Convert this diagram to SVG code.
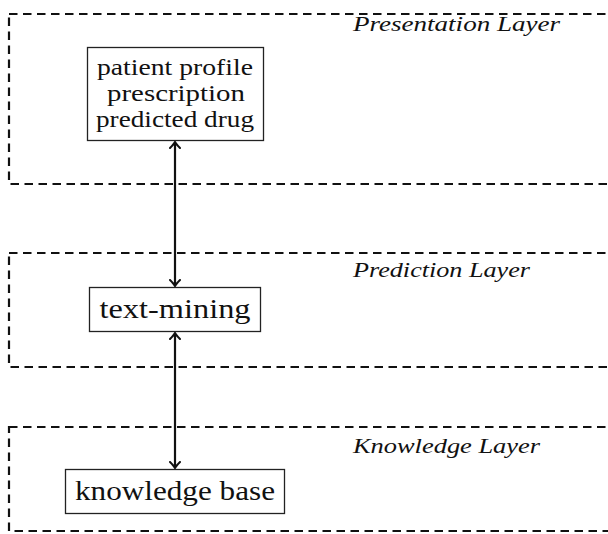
<svg xmlns="http://www.w3.org/2000/svg" width="608" height="534" viewBox="0 0 608 534">
<defs>
<marker id="arr" viewBox="-7 -6 9 12" markerWidth="9" markerHeight="12" refX="0" refY="0" orient="auto-start-reverse" markerUnits="userSpaceOnUse">
<path d="M-6,-5 Q-2,-1 0,0 Q-2,1 -6,5" fill="none" stroke="#111" stroke-width="2" stroke-linecap="round"/>
</marker>
</defs>
<style>
.layer{fill:none;stroke:#111;stroke-width:2.2;stroke-dasharray:8.5 5.5}
.box{fill:#fff;stroke:#222;stroke-width:1.3}
.t{font-family:'Liberation Serif','DejaVu Serif',serif;fill:#111;text-anchor:middle}
.lbl{font-family:'Liberation Serif','DejaVu Serif',serif;font-style:italic;fill:#111;font-size:20px}
.conn{stroke:#111;stroke-width:2.2;fill:none}
</style>
<g id="presentation-layer">
<rect class="layer" x="9" y="14" width="620" height="170"/>
<text class="lbl" x="353" y="31" textLength="207" lengthAdjust="spacingAndGlyphs">Presentation Layer</text>
</g>
<g id="prediction-layer">
<rect class="layer" x="9" y="253" width="620" height="114"/>
<text class="lbl" x="353" y="277" textLength="177" lengthAdjust="spacingAndGlyphs">Prediction Layer</text>
</g>
<g id="knowledge-layer">
<rect class="layer" x="9" y="427" width="620" height="104"/>
<text class="lbl" x="353" y="453" textLength="187" lengthAdjust="spacingAndGlyphs">Knowledge Layer</text>
</g>
<g id="connectors">
<line class="conn" x1="175" y1="142" x2="175" y2="286" marker-start="url(#arr)" marker-end="url(#arr)"/>
<line class="conn" x1="175" y1="333" x2="175" y2="468" marker-start="url(#arr)" marker-end="url(#arr)"/>
</g>
<g id="node-presentation">
<rect class="box" x="87.5" y="47.5" width="176" height="93"/>
<text class="t" x="175" y="75" font-size="23" textLength="156" lengthAdjust="spacingAndGlyphs">patient profile</text>
<text class="t" x="176" y="101" font-size="23" textLength="138" lengthAdjust="spacingAndGlyphs">prescription</text>
<text class="t" x="175" y="127" font-size="23" textLength="158" lengthAdjust="spacingAndGlyphs">predicted drug</text>
</g>
<g id="node-text-mining">
<rect class="box" x="89.5" y="287.5" width="171" height="44"/>
<text class="t" x="175" y="318" font-size="27" textLength="151" lengthAdjust="spacingAndGlyphs">text-mining</text>
</g>
<g id="node-knowledge-base">
<rect class="box" x="65.5" y="469.5" width="219" height="44"/>
<text class="t" x="175" y="500" font-size="27" textLength="200" lengthAdjust="spacingAndGlyphs">knowledge base</text>
</g>
</svg>
